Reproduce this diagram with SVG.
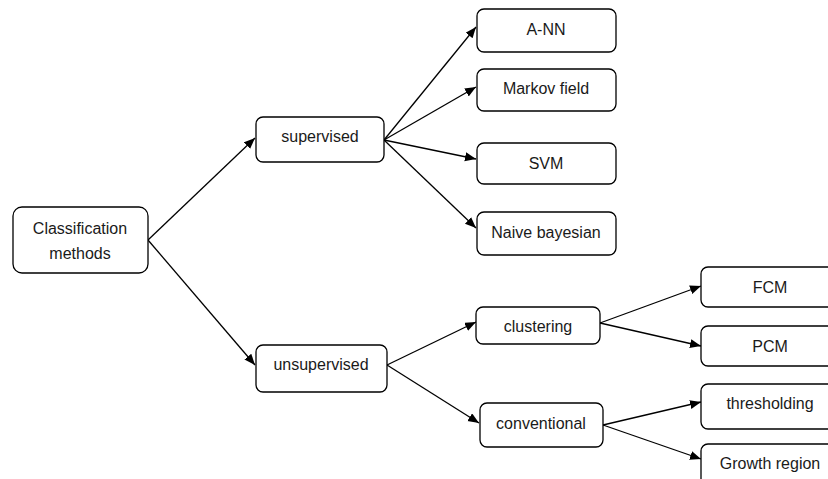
<svg xmlns="http://www.w3.org/2000/svg" width="828" height="479" viewBox="0 0 828 479">
<defs>
<marker id="ah" markerUnits="userSpaceOnUse" markerWidth="12" markerHeight="10" refX="11" refY="4.5" orient="auto">
<path d="M0,0 L11,4.5 L0,9 z" fill="#000"/>
</marker>
<style>
.box{fill:#fff;stroke:#000;stroke-width:1.3}
.t{font-family:"Liberation Sans",Arial,sans-serif;font-size:16px;fill:#1a1a1a;text-anchor:middle;dominant-baseline:central}
.c{stroke:#000;stroke-width:1.3;fill:none;marker-end:url(#ah)}
</style>
</defs>
<rect width="828" height="479" fill="#fff"/>
<g id="connectors">
<line class="c" x1="148" y1="240" x2="255" y2="138"/>
<line class="c" x1="148" y1="240" x2="255" y2="365"/>
<line class="c" x1="384" y1="140" x2="476" y2="27"/>
<line class="c" x1="384" y1="140" x2="476" y2="87"/>
<line class="c" x1="384" y1="140" x2="476" y2="159"/>
<line class="c" x1="384" y1="140" x2="476" y2="228"/>
<line class="c" x1="387" y1="365" x2="476" y2="322"/>
<line class="c" x1="387" y1="365" x2="479" y2="423"/>
<line class="c" x1="600" y1="323" x2="701" y2="286"/>
<line class="c" x1="600" y1="323" x2="701" y2="346"/>
<line class="c" x1="603" y1="425" x2="701" y2="402"/>
<line class="c" x1="603" y1="425" x2="701" y2="459"/>
</g>
<g id="classification">
<rect class="box" x="13" y="207" width="135" height="66" rx="9"/>
<text class="t" x="80" y="228">Classification</text>
<text class="t" x="80" y="253">methods</text>
</g>
<g id="supervised">
<rect class="box" x="256" y="117" width="128" height="45" rx="7"/>
<text class="t" x="320" y="136">supervised</text>
</g>
<g id="ann">
<rect class="box" x="477" y="9" width="139" height="43" rx="7"/>
<text class="t" x="546" y="29">A-NN</text>
</g>
<g id="markov">
<rect class="box" x="477" y="69" width="139" height="42" rx="7"/>
<text class="t" x="546" y="88">Markov field</text>
</g>
<g id="svm">
<rect class="box" x="477" y="143" width="139" height="41" rx="7"/>
<text class="t" x="546" y="163">SVM</text>
</g>
<g id="naive">
<rect class="box" x="477" y="212" width="139" height="43" rx="7"/>
<text class="t" x="546" y="232">Naive bayesian</text>
</g>
<g id="unsupervised">
<rect class="box" x="256" y="345" width="131" height="47" rx="7"/>
<text class="t" x="321" y="364">unsupervised</text>
</g>
<g id="clustering">
<rect class="box" x="476" y="307" width="124" height="37" rx="7"/>
<text class="t" x="538" y="326">clustering</text>
</g>
<g id="conventional">
<rect class="box" x="480" y="403" width="123" height="44" rx="7"/>
<text class="t" x="541" y="423">conventional</text>
</g>
<g id="fcm">
<rect class="box" x="701" y="267" width="140" height="40" rx="7"/>
<text class="t" x="770" y="287">FCM</text>
</g>
<g id="pcm">
<rect class="box" x="701" y="326" width="140" height="40" rx="7"/>
<text class="t" x="770" y="346">PCM</text>
</g>
<g id="thresholding">
<rect class="box" x="701" y="384" width="140" height="45" rx="7"/>
<text class="t" x="770" y="403">thresholding</text>
</g>
<g id="growth">
<rect class="box" x="701" y="444" width="140" height="45" rx="7"/>
<text class="t" x="770" y="463">Growth region</text>
</g>
</svg>
